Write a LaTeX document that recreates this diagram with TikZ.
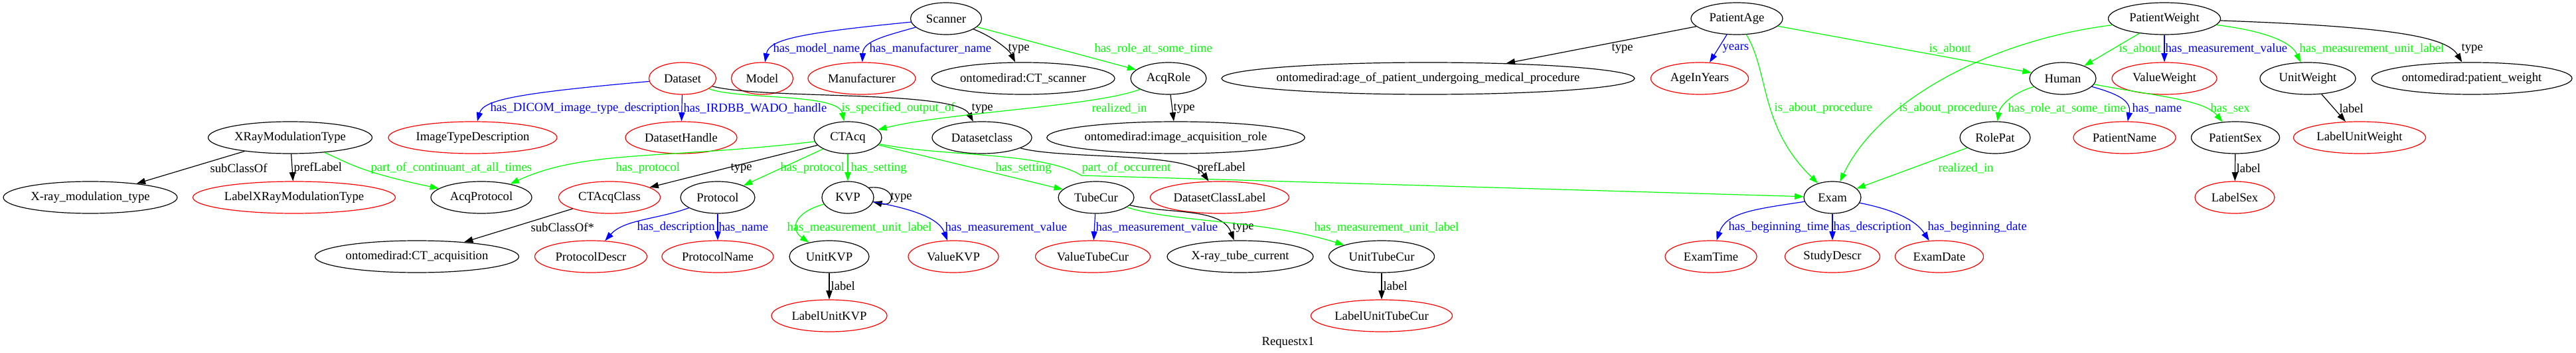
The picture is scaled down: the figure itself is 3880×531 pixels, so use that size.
\documentclass[tikz,border=0pt]{standalone}
\usepackage{fontspec}
\setmainfont{Liberation Serif}
\usetikzlibrary{shapes.geometric,arrows.meta}
\definecolor{gvred}{RGB}{255,0,0}
\definecolor{gvblue}{RGB}{0,0,255}
\definecolor{gvgreen}{RGB}{0,255,0}
\tikzset{every node/.style={font=\fontsize{14}{16}\selectfont},
    cls/.style={ellipse,draw,line width=0.9pt,minimum height=36pt,
        inner xsep=0pt,inner ysep=2pt,minimum width=#1*0.75pt},
    lit/.style={cls=#1,draw=gvred},
    rel/.style={draw,line width=0.9pt,-{Triangle[length=10pt,width=7pt]}},
    relk/.style={rel,black},
    relb/.style={rel,gvblue},
    relg/.style={rel,gvgreen},
    lbl/.style={anchor=west,inner sep=0pt}}

\begin{document}
\begin{tikzpicture}[x=0.75pt,y=-0.75pt]
	\useasboundingbox (0,0) rectangle (3880,531);
	% top row
	\node[cls=107] (Scanner) at (1425,28) {Scanner};
	\node[cls=138] (PatientAge) at (2616,28) {PatientAge};
	\node[cls=169] (PatientWeight) at (3260,28) {PatientWeight};
	% second row
	\node[lit=101] (Dataset) at (1028,118) {Dataset};
	\node[lit=93] (Model) at (1148,118) {Model};
	\node[lit=162] (Manufacturer) at (1298,118) {Manufacturer};
	\node[cls=276] (CTscanner) at (1541,118) {ontomedirad:CT\_scanner};
	\node[cls=114] (AcqRole) at (1760,118) {AcqRole};
	\node[cls=622,inner xsep=-7pt] (AgeClass) at (2151,118) {ontomedirad:age\_of\_patient\_undergoing\_medical\_procedure};
	\node[lit=147] (AgeInYears) at (2560,118) {AgeInYears};
	\node[cls=100] (Human) at (3107,118) {Human};
	\node[lit=158] (ValueWeight) at (3260,118) {ValueWeight};
	\node[cls=144] (UnitWeight) at (3476,118) {UnitWeight};
	\node[cls=302] (WeightClass) at (3723,118) {ontomedirad:patient\_weight};
	% third row
	\node[cls=247] (XRayModulationType) at (437,207) {XRayModulationType};
	\node[lit=254] (ImageTypeDescription) at (712,207) {ImageTypeDescription};
	\node[lit=168] (DatasetHandle) at (1026,207) {DatasetHandle};
	\node[cls=102] (CTAcq) at (1277,207) {CTAcq};
	\node[cls=150] (Datasetclass) at (1479,207) {Datasetclass};
	\node[cls=386] (AcqRoleClass) at (1771,207) {ontomedirad:image\_acquisition\_role};
	\node[cls=106] (RolePat) at (3005,207) {RolePat};
	\node[lit=154] (PatientName) at (3200,207) {PatientName};
	\node[cls=133] (PatientSex) at (3367,207) {PatientSex};
	\node[lit=199] (LabelUnitWeight) at (3554,207) {LabelUnitWeight};
	% fourth row
	\node[cls=262] (XRayModClass) at (136,297) {X-ray\_modulation\_type};
	\node[lit=305] (LabelXRayModulationType) at (443,297) {LabelXRayModulationType};
	\node[cls=152] (AcqProtocol) at (725,297) {AcqProtocol};
	\node[lit=153] (CTAcqClass) at (918,297) {CTAcqClass};
	\node[cls=112] (Protocol) at (1081,297) {Protocol};
	\node[cls=78] (KVP) at (1277,297) {KVP};
	\node[cls=114] (TubeCur) at (1651,297) {TubeCur};
	\node[lit=209] (DatasetClassLabel) at (1837,297) {DatasetClassLabel};
	\node[cls=86] (Exam) at (2760,297) {Exam};
	\node[lit=120] (LabelSex) at (3366,297) {LabelSex};
	% fifth row
	\node[cls=307] (CTAcqSuper) at (628,386) {ontomedirad:CT\_acquisition};
	\node[lit=169] (ProtocolDescr) at (890,386) {ProtocolDescr};
	\node[lit=168] (ProtocolName) at (1081,386) {ProtocolName};
	\node[cls=120] (UnitKVP) at (1249,386) {UnitKVP};
	\node[lit=136] (ValueKVP) at (1436,386) {ValueKVP};
	\node[lit=173] (ValueTubeCur) at (1646,386) {ValueTubeCur};
	\node[cls=220] (TubeCurClass) at (1868,386) {X-ray\_tube\_current};
	\node[cls=159] (UnitTubeCur) at (2081,386) {UnitTubeCur};
	\node[lit=138] (ExamTime) at (2577,386) {ExamTime};
	\node[lit=143] (StudyDescr) at (2760,386) {StudyDescr};
	\node[lit=133] (ExamDate) at (2921,386) {ExamDate};
	% last row
	\node[lit=174] (LabelUnitKVP) at (1249,475) {LabelUnitKVP};
	\node[lit=213] (LabelUnitTubeCur) at (2081,475) {LabelUnitTubeCur};
	\node (Title) at (1940,515) {Requestx1};

	% Scanner
	\draw[relb] (Scanner) .. controls (1200,50) and (1158,60) .. (Model) node[lbl] at (1164,73) {has\_model\_name};
	\draw[relb] (Scanner) .. controls (1330,55) and (1300,62) .. (Manufacturer) node[lbl] at (1309,73) {has\_manufacturer\_name};
	\draw[relk] (Scanner) .. controls (1495,55) and (1520,75) .. (CTscanner) node[lbl] at (1518,73) {type};
	\draw[relg] (Scanner) -- (AcqRole) node[lbl] at (1648,73) {has\_role\_at\_some\_time};
	% Dataset
	\draw[relb] (Dataset) .. controls (780,140) and (728,150) .. (ImageTypeDescription) node[lbl] at (738,163) {has\_DICOM\_image\_type\_description};
	\draw[relb] (Dataset) -- (DatasetHandle) node[lbl] at (1029,163) {has\_IRDBB\_WADO\_handle};
	\draw[relg] (Dataset) .. controls (1110,150) and (1262,140) .. (CTAcq) node[lbl] at (1267,163) {is\_specified\_output\_of};
	\draw[relk] (Dataset) .. controls (1150,150) and (1440,135) .. (Datasetclass) node[lbl] at (1463,163) {type};
	% AcqRole
	\draw[relg] (AcqRole) .. controls (1650,160) and (1420,170) .. (CTAcq) node[lbl] at (1644,163) {realized\_in};
	\draw[relk] (AcqRole) -- (AcqRoleClass) node[lbl] at (1767,163) {type};
	% XRayModulationType
	\draw[relk] (XRayModulationType) -- (XRayModClass) node[lbl] at (316,253) {subClassOf};
	\draw[relk] (XRayModulationType) -- (LabelXRayModulationType) node[lbl] at (442,253) {prefLabel};
	\draw[relg] (XRayModulationType) .. controls (525,245) and (540,258) .. (AcqProtocol) node[lbl] at (558,253) {part\_of\_continuant\_at\_all\_times};
	% CTAcq
	\draw[relg] (CTAcq) .. controls (1000,240) and (880,225) .. (AcqProtocol) node[lbl] at (927,253) {has\_protocol};
	\draw[relk] (CTAcq) -- (CTAcqClass) node[lbl] at (1100,253) {type};
	\draw[relg] (CTAcq) -- (Protocol) node[lbl] at (1175,253) {has\_protocol};
	\draw[relg] (CTAcq) -- (KVP) node[lbl] at (1281,253) {has\_setting};
	\draw[relg] (CTAcq) -- (TubeCur) node[lbl] at (1499,253) {has\_setting};
	\draw[relg] (CTAcq) .. controls (1420,236) and (1570,228) .. (1629,264) -- (Exam) node[lbl] at (1629,253) {part\_of\_occurrent};
	\draw[relk] (Datasetclass) .. controls (1600,240) and (1790,228) .. (DatasetClassLabel) node[lbl] at (1803,253) {prefLabel};
	% fourth row out
	\draw[relk] (CTAcqClass) -- (CTAcqSuper) node[lbl] at (799,342) {subClassOf*};
	\draw[relb] (Protocol) .. controls (990,330) and (940,330) .. (ProtocolDescr) node[lbl] at (959,342) {has\_description};
	\draw[relb] (Protocol) -- (ProtocolName) node[lbl] at (1082,342) {has\_name};
	\draw[relk] (KVP.25) .. controls (1350,278) and (1350,312) .. (KVP.-10) node[lbl] at (1341,297) {type};
	\draw[relg] (KVP) .. controls (1195,320) and (1190,345) .. (UnitKVP) node[lbl] at (1185,342) {has\_measurement\_unit\_label};
	\draw[relb] (KVP) .. controls (1380,315) and (1415,330) .. (ValueKVP) node[lbl] at (1423,342) {has\_measurement\_value};
	\draw[relb] (TubeCur) -- (ValueTubeCur) node[lbl] at (1650,342) {has\_measurement\_value};
	\draw[relk] (TubeCur) .. controls (1760,322) and (1840,312) .. (TubeCurClass) node[lbl] at (1856,342) {type};
	\draw[relg] (TubeCur) .. controls (1770,335) and (1900,330) .. (UnitTubeCur) node[lbl] at (1979,342) {has\_measurement\_unit\_label};
	\draw[relk] (UnitKVP) -- (LabelUnitKVP) node[lbl] at (1251,430) {label};
	\draw[relk] (UnitTubeCur) -- (LabelUnitTubeCur) node[lbl] at (2083,430) {label};
	% PatientAge
	\draw[relk] (PatientAge) -- (AgeClass) node[lbl] at (2427,73) {type};
	\draw[relb] (PatientAge) -- (AgeInYears) node[lbl] at (2594,73) {years};
	\draw[relg] (PatientAge) -- (Human) node[lbl] at (2905,73) {is\_about};
	\draw[relg] (PatientAge) .. controls (2665,110) and (2650,190) .. (Exam) node[lbl] at (2672,163) {is\_about\_procedure};
	% PatientWeight
	\draw[relg] (PatientWeight) .. controls (3000,60) and (2830,150) .. (Exam) node[lbl] at (2860,163) {is\_about\_procedure};
	\draw[relg] (PatientWeight) -- (Human) node[lbl] at (3191,73) {is\_about};
	\draw[relb] (PatientWeight) -- (ValueWeight) node[lbl] at (3261,73) {has\_measurement\_value};
	\draw[relg] (PatientWeight) .. controls (3400,45) and (3450,60) .. (UnitWeight) node[lbl] at (3463,73) {has\_measurement\_unit\_label};
	\draw[relk] (PatientWeight) .. controls (3600,40) and (3685,55) .. (WeightClass) node[lbl] at (3707,73) {type};
	% Human
	\draw[relg] (Human) .. controls (3030,140) and (3012,160) .. (RolePat) node[lbl] at (3024,163) {has\_role\_at\_some\_time};
	\draw[relb] (Human) .. controls (3185,140) and (3211,150) .. (PatientName) node[lbl] at (3211,163) {has\_name};
	\draw[relg] (Human) .. controls (3250,145) and (3320,150) .. (PatientSex) node[lbl] at (3329,163) {has\_sex};
	\draw[relg] (RolePat) -- (Exam) node[lbl] at (2919,253) {realized\_in};
	\draw[relk] (UnitWeight) -- (LabelUnitWeight) node[lbl] at (3523,163) {label};
	\draw[relk] (PatientSex) -- (LabelSex) node[lbl] at (3368,253) {label};
	% Exam
	\draw[relb] (Exam) .. controls (2640,315) and (2600,320) .. (ExamTime) node[lbl] at (2603,342) {has\_beginning\_time};
	\draw[relb] (Exam) -- (StudyDescr) node[lbl] at (2761,342) {has\_description};
	\draw[relb] (Exam) .. controls (2850,315) and (2885,330) .. (ExamDate) node[lbl] at (2903,342) {has\_beginning\_date};
\end{tikzpicture}
\end{document}
